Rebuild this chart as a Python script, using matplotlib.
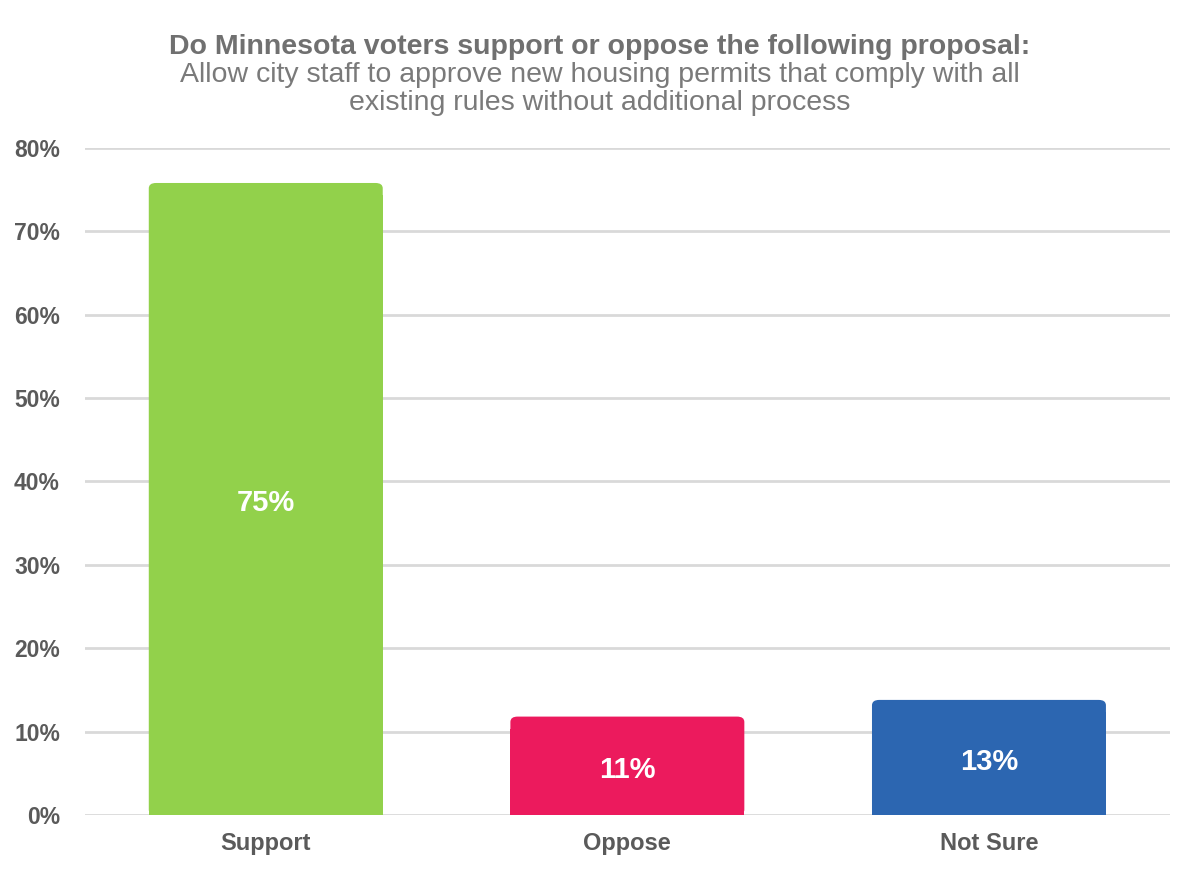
#!/usr/bin/env python

import matplotlib.pyplot as plt
import numpy as np
from matplotlib.patches import FancyBboxPatch

plt.rcParams['font.family'] = ['Liberation Sans', 'DejaVu Sans']

categories = ["Support", "Oppose", "Not Sure"]
values = [75.8, 11.8, 13.8]
bar_labels = ["75%", "11%", "13%"]
colors = ["#92D14B", "#EC1A5D", "#2C66B1"]
yticks = [0, 10, 20, 30, 40, 50, 60, 70, 80]

title_lines = ["Do Minnesota voters support or oppose the following proposal:",
               "Allow city staff to approve new housing permits that comply with all",
               "existing rules without additional process"]

text_color = "#5a5a5a"

fig = plt.figure(figsize=(12, 8.75), dpi=100)
ax = fig.add_axes([0.0708, 0.0686, 0.904, 0.7623])

x = np.arange(len(categories))
width = 0.647
bars = ax.bar(x, values, width=width, color=colors, zorder=3)

# rounded top corners: rounded box for the top, plain rectangle for the rest
for b, c in zip(bars, colors):
    b.set_visible(False)
    x0, w, h = b.get_x(), b.get_width(), b.get_height()
    ax.add_patch(FancyBboxPatch((x0, 0), w, h,
                                boxstyle="round,pad=0,rounding_size=0.02",
                                mutation_aspect=32,
                                fc=c, ec="none", zorder=3))
    ax.add_patch(plt.Rectangle((x0, 0), w, h - 1.5, fc=c, ec="none", zorder=3))

for xi, v, lab in zip(x, values, bar_labels):
    ax.text(xi, v / 2 - 0.5, lab, ha="center", va="center", color="white",
            fontsize=21, fontweight="bold", zorder=4)

ax.set_xlim(-0.5, 2.5)
ax.set_ylim(0, 80)
ax.set_yticks(yticks)
ax.set_yticklabels([f"{t}%" for t in yticks], fontsize=16.5, fontweight="bold", color=text_color)
ax.set_xticks(x)
ax.set_xticklabels(categories, fontsize=17, fontweight="bold", color=text_color)
ax.tick_params(axis="both", length=0)
ax.tick_params(axis="y", pad=18)
ax.tick_params(axis="x", pad=12)
ax.yaxis.grid(True, color="#d9d9d9", linewidth=2, zorder=0)
ax.set_axisbelow(True)
for s in ax.spines.values():
    s.set_visible(False)

fig.text(0.5, 1 - 47 / 875, title_lines[0], ha="center", va="center", fontsize=20.5,
         fontweight="bold", color="#707070")
fig.text(0.5, 1 - 75 / 875, title_lines[1], ha="center", va="center", fontsize=20.5,
         color="#7a7a7a")
fig.text(0.5, 1 - 103 / 875, title_lines[2], ha="center", va="center", fontsize=20.5,
         color="#7a7a7a")

plt.savefig("out.png")
